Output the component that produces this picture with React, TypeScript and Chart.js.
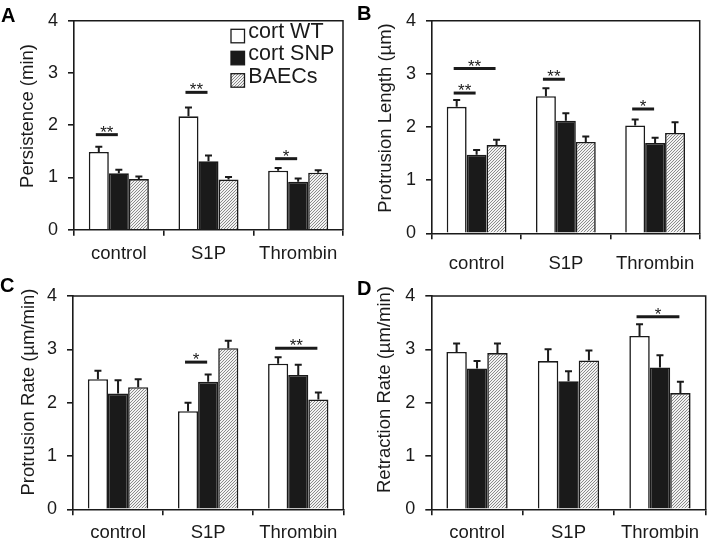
import React, { useEffect, useRef } from 'react';
import { Chart, registerables } from 'chart.js';

Chart.register(...registerables);

const FONT = '"Liberation Sans", Arial, Helvetica, sans-serif';
const INK = '#1a1a1a';

const categories = ['control', 'S1P', 'Thrombin'];
const seriesNames = ['cort WT', 'cort SNP', 'BAECs'];
const yTickValues = [0, 1, 2, 3, 4];

// Panel A: Persistence (min)
const persistenceWT = [1.49, 2.17, 1.13];
const persistenceSNP = [1.08, 1.31, 0.92];
const persistenceBAEC = [0.97, 0.96, 1.09];
const persistenceWTErr = [0.10, 0.17, 0.05];
const persistenceSNPErr = [0.07, 0.11, 0.06];
const persistenceBAECErr = [0.05, 0.05, 0.05];
// [category, fromSeries, toSeries, yValue, label]
const persistenceSig: [number, number, number, number, string][] = [
  [0, 0, 1, 1.82, '**'],
  [1, 0, 1, 2.63, '**'],
  [2, 0, 1, 1.36, '*'],
];

// Panel B: Protrusion Length (µm)
const lengthWT = [2.38, 2.58, 2.03];
const lengthSNP = [1.48, 2.12, 1.70];
const lengthBAEC = [1.66, 1.72, 1.89];
const lengthWTErr = [0.13, 0.15, 0.11];
const lengthSNPErr = [0.09, 0.14, 0.10];
const lengthBAECErr = [0.10, 0.10, 0.20];
const lengthSig: [number, number, number, number, string][] = [
  [0, 0, 1, 2.64, '**'],
  [0, 0, 2, 3.10, '**'],
  [1, 0, 1, 2.90, '**'],
  [2, 0, 1, 2.34, '*'],
];

// Panel C: Protrusion Rate (µm/min)
const protRateWT = [2.44, 1.84, 2.73];
const protRateSNP = [2.17, 2.39, 2.52];
const protRateBAEC = [2.29, 3.02, 2.06];
const protRateWTErr = [0.16, 0.16, 0.12];
const protRateSNPErr = [0.25, 0.14, 0.19];
const protRateBAECErr = [0.15, 0.14, 0.13];
const protRateSig: [number, number, number, number, string][] = [
  [1, 0, 1, 2.76, '*'],
  [2, 0, 2, 3.02, '**'],
];

// Panel D: Retraction Rate (µm/min)
const retrRateWT = [2.95, 2.78, 3.25];
const retrRateSNP = [2.64, 2.40, 2.66];
const retrRateBAEC = [2.93, 2.79, 2.18];
const retrRateWTErr = [0.16, 0.22, 0.22];
const retrRateSNPErr = [0.14, 0.19, 0.23];
const retrRateBAECErr = [0.18, 0.19, 0.21];
const retrRateSig: [number, number, number, number, string][] = [
  [2, 0, 2, 3.61, '*'],
];

type Panel = {
  letter: string;
  title: string;
  values: number[][];
  errors: number[][];
  sig: [number, number, number, number, string][];
  legend: boolean;
  x: number; y: number; w: number; h: number;
  left: number; top: number; right: number; bottom: number;
  labelPad: number;
  titleX: number; titleY: number;
  letterX: number; letterY: number;
};

const panels: Panel[] = [
  {
    letter: 'A', title: 'Persistence (min)',
    values: [persistenceWT, persistenceSNP, persistenceBAEC],
    errors: [persistenceWTErr, persistenceSNPErr, persistenceBAECErr],
    sig: persistenceSig, legend: true,
    x: 0, y: 0, w: 354, h: 272,
    left: 74, top: 16, right: 343, bottom: 229.7, labelPad: 7,
    titleX: 28, titleY: 116, letterX: 1, letterY: 21.7,
  },
  {
    letter: 'B', title: 'Protrusion Length (µm)',
    values: [lengthWT, lengthSNP, lengthBAEC],
    errors: [lengthWTErr, lengthSNPErr, lengthBAECErr],
    sig: lengthSig, legend: false,
    x: 354, y: 0, w: 354, h: 272,
    left: 78, top: 20.7, right: 352, bottom: 233.3, labelPad: 13.5,
    titleX: 32, titleY: 118, letterX: 3, letterY: 20,
  },
  {
    letter: 'C', title: 'Protrusion Rate (µm/min)',
    values: [protRateWT, protRateSNP, protRateBAEC],
    errors: [protRateWTErr, protRateSNPErr, protRateBAECErr],
    sig: protRateSig, legend: false,
    x: 0, y: 272, w: 354, h: 273,
    left: 73, top: 24, right: 343.3, bottom: 237.3, labelPad: 7,
    titleX: 29, titleY: 120, letterX: 0, letterY: 20,
  },
  {
    letter: 'D', title: 'Retraction Rate (µm/min)',
    values: [retrRateWT, retrRateSNP, retrRateBAEC],
    errors: [retrRateWTErr, retrRateSNPErr, retrRateBAECErr],
    sig: retrRateSig, legend: false,
    x: 354, y: 272, w: 354, h: 273,
    left: 77.3, top: 24, right: 351.7, bottom: 237.3, labelPad: 7,
    titleX: 31, titleY: 117.5, letterX: 3, letterY: 23.3,
  },
];

function makeHatch(ctx: CanvasRenderingContext2D): CanvasPattern | string {
  const s = 3;
  const c = document.createElement('canvas');
  c.width = s;
  c.height = s;
  const g = c.getContext('2d');
  if (!g) return '#bbbbbb';
  g.fillStyle = '#f2f2f2';
  g.fillRect(0, 0, s, s);
  g.strokeStyle = '#8a8a8a';
  g.lineWidth = 1;
  g.beginPath();
  g.moveTo(0, s); g.lineTo(s, 0);
  g.moveTo(-1, 1); g.lineTo(1, -1);
  g.moveTo(s - 1, s + 1); g.lineTo(s + 1, s - 1);
  g.stroke();
  return ctx.createPattern(c, 'repeat') || '#bbbbbb';
}

function PanelChart({ p }: { p: Panel }) {
  const ref = useRef<HTMLCanvasElement>(null);
  useEffect(() => {
    const canvas = ref.current;
    if (!canvas) return;
    const ctx0 = canvas.getContext('2d') as CanvasRenderingContext2D;
    const hatch = makeHatch(ctx0);
    const fills: any[] = ['#ffffff', INK, hatch];

    const annot = {
      id: 'annot',
      afterDatasetsDraw(chart: any) {
        const ctx = chart.ctx as CanvasRenderingContext2D;
        const ys = chart.scales.y;
        const area = chart.chartArea;
        ctx.save();
        chart.data.datasets.forEach((ds: any, i: number) => {
          const meta = chart.getDatasetMeta(i);
          meta.data.forEach((bar: any, j: number) => {
            const v = ds.data[j];
            const e = p.errors[i][j];
            const x = bar.x;
            const y0 = ys.getPixelForValue(v);
            const y1 = ys.getPixelForValue(v + e);
            ctx.strokeStyle = INK;
            ctx.lineWidth = 2;
            ctx.beginPath();
            ctx.moveTo(x, y0);
            ctx.lineTo(x, y1);
            ctx.moveTo(x - 3.5, y1);
            ctx.lineTo(x + 3.5, y1);
            ctx.stroke();
          });
        });
        ctx.strokeStyle = INK;
        ctx.lineWidth = 1.5;
        ctx.beginPath();
        ctx.moveTo(area.left, area.top);
        ctx.lineTo(area.right, area.top);
        ctx.lineTo(area.right, area.bottom);
        ctx.stroke();
        p.sig.forEach(([c, a, b, v, label]) => {
          const xa = chart.getDatasetMeta(a).data[c].x - 3;
          const xb = chart.getDatasetMeta(b).data[c].x - 1;
          const yy = ys.getPixelForValue(v);
          ctx.strokeStyle = INK;
          ctx.lineWidth = 3;
          ctx.beginPath();
          ctx.moveTo(xa, yy);
          ctx.lineTo(xb, yy);
          ctx.stroke();
          ctx.fillStyle = INK;
          ctx.font = `17px ${FONT}`;
          ctx.textAlign = 'center';
          ctx.textBaseline = 'alphabetic';
          ctx.fillText(label, (xa + xb) / 2, yy + 3);
        });
        ctx.restore();
      },
      afterDraw(chart: any) {
        const ctx = chart.ctx as CanvasRenderingContext2D;
        ctx.save();
        ctx.fillStyle = INK;
        ctx.font = `18.5px ${FONT}`;
        ctx.textAlign = 'center';
        ctx.textBaseline = 'middle';
        ctx.translate(p.titleX, p.titleY);
        ctx.rotate(-Math.PI / 2);
        ctx.fillText(p.title, 0, 0);
        ctx.restore();
        ctx.save();
        ctx.fillStyle = '#000';
        ctx.font = `bold 20px ${FONT}`;
        ctx.textAlign = 'left';
        ctx.textBaseline = 'alphabetic';
        ctx.fillText(p.letter, p.letterX, p.letterY);
        if (p.legend) {
          const baselines = [38.3, 60.3, 82.7];
          seriesNames.forEach((name, i) => {
            const by = baselines[i];
            ctx.fillStyle = fills[i];
            ctx.fillRect(231, by - 9, 13.5, 13.5);
            ctx.strokeStyle = INK;
            ctx.lineWidth = 1.3;
            ctx.strokeRect(231, by - 9, 13.5, 13.5);
            ctx.fillStyle = INK;
            ctx.font = `21.5px ${FONT}`;
            ctx.textAlign = 'left';
            ctx.textBaseline = 'alphabetic';
            ctx.fillText(name, 248.3, by);
          });
        }
        ctx.restore();
      },
    };

    const chart = new Chart(canvas, {
      type: 'bar',
      data: {
        labels: categories,
        datasets: seriesNames.map((name, i) => ({
          label: name,
          data: p.values[i],
          backgroundColor: fills[i],
          borderColor: INK,
          borderWidth: 1.6,
          categoryPercentage: 0.67,
          barPercentage: 1,
        })),
      },
      options: {
        animation: false,
        responsive: false,
        devicePixelRatio: 1,
        layout: { padding: { left: 0, top: p.top, right: p.w - p.right, bottom: 0 } },
        plugins: { legend: { display: false }, tooltip: { enabled: false }, title: { display: false } },
        scales: {
          x: {
            type: 'category',
            offset: true,
            grid: { offset: true, drawOnChartArea: false, drawTicks: true, tickLength: 6, color: INK, lineWidth: 1.6 },
            border: { display: true, color: INK, width: 1.6 },
            ticks: { font: { family: FONT, size: 18.5 }, color: INK, padding: p.labelPad, maxRotation: 0, autoSkip: false },
            afterFit: (s: any) => { s.height = p.h - p.bottom; },
          },
          y: {
            min: 0,
            max: 4,
            afterBuildTicks: (s: any) => { s.ticks = yTickValues.map((v) => ({ value: v })); },
            ticks: { font: { family: FONT, size: 18 }, color: INK, padding: 10 },
            grid: { drawOnChartArea: false, drawTicks: true, tickLength: 6, color: INK, lineWidth: 1.6 },
            border: { display: true, color: INK, width: 1.6 },
            afterFit: (s: any) => { s.width = p.left; },
          },
        },
      } as any,
      plugins: [annot],
    });
    return () => chart.destroy();
  }, [p]);
  return (
    <canvas
      ref={ref}
      width={p.w}
      height={p.h}
      style={{ position: 'absolute', left: p.x, top: p.y, width: p.w, height: p.h }}
    />
  );
}

export default function App() {
  return (
    <div style={{ position: 'relative', width: 708, height: 545, background: '#fff', overflow: 'hidden' }}>
      <style>{'body{margin:0;background:#fff;}'}</style>
      {panels.map((p) => (
        <PanelChart key={p.letter} p={p} />
      ))}
    </div>
  );
}
